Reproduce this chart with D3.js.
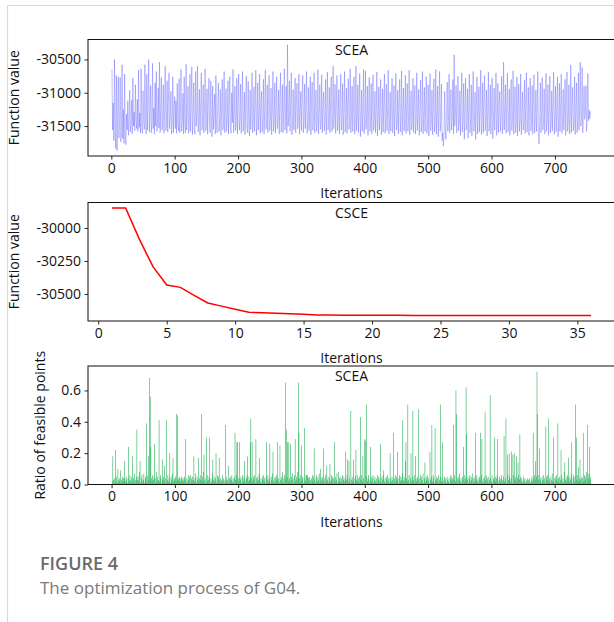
<!DOCTYPE html>
<html><head><meta charset="utf-8">
<script src="https://cdn.jsdelivr.net/npm/d3@7"></script>
<style>
body{margin:0;background:#fff}
svg{display:block}
text{font-family:'Open Sans',sans-serif}
</style>
</head><body>
<svg id="chart" width="614" height="622"></svg>
<script>
// ---------- data ----------
const sceaFunctionValues = [
-30650,-31560,-31150,-31720,-30500,-31620,-31840,-30740,-31870,-31350,-30760,-31680,-31420,-30770,-31740,-31520,-30580,-31690,-31250,-31760,
-30720,-31610,-31780,-31320,-31560,-31120,-31640,-31420,-30960,-31590,-31450,-31110,-31620,-30780,-31500,-31290,-31570,-30880,-31420,-31540,
-31100,-31580,-30660,-31520,-31300,-31600,-30640,-31490,-31610,-30970,-31380,-31550,-30580,-31420,-31620,-30720,-31560,-31180,-30500,-31590,
-31320,-30890,-31600,-31450,-30560,-31540,-31230,-31620,-30850,-31500,-30680,-31580,-31380,-30930,-31530,-30540,-31600,-31250,-30770,-31560,
-31420,-30880,-31610,-31300,-30600,-31570,-31460,-30820,-31590,-31150,-30700,-31540,-31380,-30980,-31620,-31480,-30760,-31600,-31200,-31060,
-31540,-31120,-31610,-30860,-31450,-31570,-30790,-31600,-31320,-30650,-31580,-31430,-31010,-31620,-30760,-31490,-31600,-30570,-31560,-31280,
-30900,-31610,-31460,-30720,-31580,-31200,-30610,-31630,-31400,-30850,-31550,-31620,-30680,-31500,-31350,-30600,-31590,-31450,-30950,-31640,
-31180,-30700,-31560,-31420,-30880,-31600,-31300,-30640,-31570,-31480,-30940,-31620,-31150,-30780,-31510,-31600,-30820,-31440,-31660,-30900,
-31550,-31300,-31020,-31620,-30740,-31480,-31600,-31120,-30850,-31580,-31400,-30950,-31640,-31250,-30800,-31560,-31480,-30680,-31600,-31320,
-30940,-31580,-31430,-30820,-31620,-31200,-30760,-31540,-31610,-31000,-31450,-30650,-31600,-31350,-30900,-31570,-31480,-30780,-31620,-31100,
-30720,-31560,-31400,-30870,-31610,-31280,-30680,-31580,-31450,-30990,-31630,-31150,-30750,-31520,-31600,-30830,-31480,-31650,-30960,-31550,
-31300,-30700,-31600,-31420,-30910,-31580,-31220,-30660,-31640,-31460,-30850,-31560,-31350,-30720,-31610,-31180,-30980,-31590,-31440,-30800,
-31620,-31270,-30660,-31550,-31480,-30880,-31600,-31140,-30740,-31570,-31420,-30930,-31630,-31300,-30680,-31580,-31460,-30850,-31610,-31200,
-30760,-31540,-31400,-30960,-31620,-31130,-30700,-31590,-31450,-30880,-31600,-31260,-30640,-31560,-31420,-30900,-31610,-30280,-31500,-31350,
-30820,-31580,-31200,-30700,-31630,-31450,-30950,-31560,-31300,-30780,-31600,-31150,-30860,-31540,-31460,-30720,-31620,-31280,-30980,-31570,
-31050,-30740,-31600,-31380,-30870,-31540,-31200,-30680,-31610,-31450,-30920,-31570,-31280,-30760,-31630,-31100,-30840,-31560,-31420,-30700,
-31600,-31250,-30960,-31580,-31400,-30650,-31620,-31300,-30880,-31550,-31460,-30730,-31600,-31180,-30990,-31570,-31420,-30800,-31630,-31260,
-30690,-31560,-31410,-30920,-31600,-31140,-30760,-31580,-31470,-30600,-31540,-31320,-30870,-31610,-31230,-30740,-31570,-31440,-30950,-31620,
-31200,-30720,-31560,-31400,-30860,-31630,-31290,-30680,-31590,-31430,-30930,-31610,-31170,-30790,-31550,-31460,-30640,-31600,-31320,-30900,
-31580,-31250,-30760,-31620,-31420,-30600,-31570,-31350,-30880,-31600,-31200,-30710,-31660,-31440,-30960,-31580,-31280,-30650,-31610,-31400,
-30670,-31550,-31330,-30900,-31640,-31210,-30770,-31580,-31450,-30860,-31620,-31180,-30730,-31570,-31420,-30980,-31600,-31300,-30690,-31650,
-31380,-30910,-31560,-31240,-30800,-31630,-31450,-30940,-31590,-31160,-30720,-31610,-31400,-30870,-31570,-31290,-30660,-31620,-31440,-30990,
-31580,-31230,-30780,-31600,-31410,-30890,-31650,-31270,-30710,-31560,-31460,-30960,-31620,-31150,-30800,-31590,-31380,-30670,-31640,-31310,
-30930,-31570,-31440,-30740,-31610,-31200,-30860,-31580,-31420,-30660,-31630,-31290,-30970,-31560,-31450,-30780,-31600,-31170,-30890,-31620,
-31400,-30700,-31570,-31300,-30950,-31640,-31250,-30810,-31590,-31440,-30680,-31620,-31350,-30920,-31580,-31200,-30760,-31610,-31460,-30880,
-31650,-31300,-30710,-31570,-31420,-30960,-31630,-31190,-30790,-31590,-31470,-30650,-31620,-31330,-30900,-31660,-31260,-30680,-31580,-31440,
-30870,-31720,-31600,-31800,-31650,-30980,-31550,-31700,-31300,-30840,-31580,-31420,-30720,-31600,-31210,-30950,-31560,-31380,-30800,-31620,
-30430,-31500,-31330,-30890,-31600,-31250,-30750,-31570,-31450,-30970,-31640,-31160,-30700,-31590,-31420,-30860,-31700,-31300,-30780,-31560,
-31480,-30940,-31680,-31220,-30720,-31600,-31400,-30880,-31650,-31170,-30680,-31580,-31450,-30990,-31700,-31280,-30760,-31620,-31360,-30910,
-31590,-31240,-30660,-31630,-31440,-30850,-31600,-31150,-30740,-31570,-31420,-30960,-31650,-31300,-30690,-31580,-31460,-30880,-31620,-31200,
-30780,-31690,-31400,-30930,-31560,-31260,-30700,-31640,-31430,-30860,-31600,-31180,-30980,-31580,-31370,-30750,-31620,-31450,-30540,-31560,
-31300,-30880,-31610,-31220,-30710,-31590,-31460,-30940,-31640,-31140,-30800,-31570,-31390,-30670,-31620,-31280,-30910,-31600,-31450,-30760,
-31650,-31200,-30870,-31580,-31420,-30720,-31630,-31310,-30990,-31560,-31460,-30810,-31610,-31180,-30700,-31590,-31400,-30920,-31640,-31260,
-30780,-31570,-31450,-30890,-31620,-31160,-30730,-31600,-31380,-30960,-31580,-31250,-30680,-31660,-31770,-31420,-30850,-31600,-31300,-30770,
-31560,-31440,-30940,-31620,-31200,-30710,-31580,-31400,-30880,-31640,-31280,-30750,-31600,-31460,-30970,-31570,-31150,-30690,-31620,-31380,
-30900,-31590,-31250,-30760,-31660,-31430,-30860,-31580,-31180,-30720,-31610,-31460,-30950,-31560,-31300,-30800,-31640,-31220,-30690,-31580,
-31440,-30880,-31620,-31350,-30580,-31600,-31200,-30920,-31570,-31450,-30760,-31630,-31280,-30850,-31600,-31400,-30700,-31560,-31170,-30540,
-31500,-31380,-30620,-31600,-31250,-30900,-31400,-31330,-30890,-31580,-31350,-30710,-31420,-31260,-31390,-31300,-31280
];

const csceFunctionValues = [
-29848,-29848,-30085,-30293,-30432,-30450,-30510,-30568,-30592,-30616,-30638,-30642,-30646,-30650,-30654,-30659,
-30660,-30661,-30661,-30662,-30662,-30662,-30663,-30663,-30663,-30663,-30663,-30664,-30664,-30664,-30664,-30664,
-30664,-30664,-30664,-30664
];

const feasibleRatio = [
.02,.18,.03,.01,.04,.22,.02,.05,.01,.10,.03,.02,.04,.09,.01,.03,.05,.02,.04,.15,
.04,.02,.05,.03,.01,.04,.24,.02,.06,.03,.01,.05,.18,.02,.04,.07,.01,.03,.05,.35,
.03,.05,.02,.08,.15,.01,.04,.06,.02,.03,.07,.01,.04,.05,.39,.02,.06,.18,.03,.68,
.56,.24,.04,.02,.06,.03,.05,.26,.01,.04,.08,.02,.05,.03,.41,.02,.06,.04,.01,.16,
.03,.05,.02,.12,.04,.01,.41,.03,.06,.02,.04,.20,.01,.05,.03,.07,.17,.02,.04,.03,
.05,.02,.45,.44,.04,.03,.05,.04,.02,.04,.05,.03,.04,.02,.05,.03,.29,.01,.04,.02,
.06,.03,.05,.01,.06,.04,.02,.05,.03,.18,.02,.04,.07,.01,.05,.03,.17,.02,.04,.06,
.03,.45,.02,.05,.08,.19,.03,.01,.04,.30,.02,.06,.03,.05,.30,.01,.04,.02,.07,.16,
.03,.05,.02,.04,.20,.01,.06,.03,.05,.17,.02,.04,.01,.03,.06,.02,.04,.01,.03,.38,
.02,.05,.03,.01,.12,.04,.02,.05,.03,.06,.02,.04,.01,.05,.33,.03,.06,.27,.27,.04,
.02,.27,.05,.03,.01,.04,.06,.02,.05,.15,.03,.01,.04,.06,.18,.02,.05,.03,.27,.42,
.04,.27,.02,.05,.03,.06,.01,.29,.04,.02,.05,.03,.07,.17,.02,.04,.01,.05,.03,.06,
.02,.04,.01,.05,.27,.03,.06,.02,.04,.26,.01,.05,.03,.07,.21,.02,.04,.01,.05,.03,
.06,.27,.02,.04,.01,.25,.03,.05,.02,.08,.04,.01,.06,.03,.65,.35,.05,.27,.02,.27,
.04,.02,.26,.05,.03,.07,.01,.04,.06,.29,.02,.05,.03,.08,.65,.33,.04,.02,.06,.25,
.03,.05,.01,.04,.36,.02,.06,.06,.05,.06,.04,.02,.05,.03,.01,.04,.06,.02,.05,.23,
.03,.01,.04,.06,.02,.05,.03,.07,.01,.10,.04,.02,.05,.03,.23,.01,.04,.06,.02,.12,
.03,.05,.01,.04,.13,.02,.06,.03,.05,.01,.04,.27,.02,.05,.03,.07,.01,.08,.02,.04,
.05,.02,.04,.01,.06,.03,.05,.02,.04,.21,.03,.06,.16,.02,.15,.04,.01,.47,.03,.05,
.02,.16,.04,.01,.05,.22,.03,.06,.02,.04,.01,.05,.43,.03,.06,.02,.18,.04,.01,.29,
.28,.05,.51,.02,.04,.06,.01,.03,.24,.05,.02,.04,.06,.01,.03,.05,.02,.04,.01,.06,
.03,.05,.02,.04,.26,.01,.05,.03,.06,.09,.02,.04,.01,.05,.03,.06,.02,.04,.01,.20,
.04,.02,.05,.03,.33,.01,.04,.06,.02,.05,.03,.21,.01,.04,.06,.02,.05,.03,.07,.41,
.02,.05,.03,.15,.27,.04,.02,.51,.03,.06,.01,.04,.20,.02,.05,.47,.03,.06,.01,.18,
.04,.02,.05,.03,.48,.01,.04,.06,.02,.05,.03,.07,.01,.04,.14,.02,.05,.03,.06,.02,
.04,.01,.21,.03,.05,.38,.02,.04,.06,.01,.36,.03,.05,.02,.04,.06,.01,.03,.05,.51,
.02,.04,.27,.01,.03,.05,.02,.04,.01,.05,.03,.02,.04,.01,.06,.03,.05,.02,.04,.38,
.03,.06,.02,.60,.45,.04,.01,.05,.03,.07,.02,.04,.01,.05,.03,.24,.06,.02,.04,.62,
.32,.03,.05,.01,.04,.06,.02,.05,.03,.07,.01,.04,.02,.05,.33,.03,.06,.02,.04,.01,
.05,.03,.33,.06,.29,.02,.04,.01,.05,.46,.03,.06,.02,.04,.01,.05,.03,.57,.04,.02,
.06,.01,.04,.03,.30,.05,.02,.04,.06,.29,.01,.03,.05,.02,.04,.06,.01,.03,.05,.31,
.02,.04,.42,.01,.19,.06,.03,.20,.05,.02,.04,.21,.01,.19,.06,.20,.03,.05,.02,.18,
.04,.14,.06,.03,.32,.05,.02,.04,.01,.03,.05,.02,.04,.01,.03,.02,.04,.01,.03,.04,
.02,.01,.03,.05,.02,.33,.04,.06,.03,.15,.05,.72,.45,.03,.06,.23,.02,.04,.01,.05,
.03,.06,.02,.04,.01,.37,.05,.03,.06,.42,.02,.04,.01,.05,.03,.07,.02,.30,.04,.01,
.05,.03,.06,.02,.39,.04,.01,.05,.03,.22,.06,.02,.04,.01,.08,.14,.03,.05,.02,.06,
.04,.17,.02,.05,.03,.07,.27,.01,.04,.06,.02,.05,.51,.30,.03,.06,.02,.11,.04,.16,
.03,.05,.01,.04,.33,.02,.06,.03,.05,.08,.02,.38,.04,.07,.24,.05,.03
];

const sceaTicks = [0, 100, 200, 300, 400, 500, 600, 700];
const csceTicks = [0, 5, 10, 15, 20, 25, 30, 35];
const topYTicks = [-30500, -31000, -31500];
const midYTicks = [-30000, -30250, -30500];
const botYTicks = [0, 0.2, 0.4, 0.6];
const panelTitles = ["SCEA", "CSCE", "SCEA"];
const xLabel = "Iterations";
const yLabels = ["Function value", "Function value", "Ratio of feasible points"];
const captionTitle = "FIGURE 4";
const captionText = "The optimization process of G04.";

// ---------- layout ----------
const svg = d3.select("#chart");
const W = 614, H = 622;
const left = 88, right = 615;
const panels = [
  {top: 39.5, bottom: 156},
  {top: 202.5, bottom: 321},
  {top: 366, bottom: 484.5}
];
const fontSize = 14;

// figure border
svg.append("line").attr("x1", 7).attr("x2", W).attr("y1", 5.5).attr("y2", 5.5)
  .attr("stroke", "#d9d9d9").attr("stroke-width", 1.2);
svg.append("line").attr("x1", 7.5).attr("x2", 7.5).attr("y1", 5.5).attr("y2", H)
  .attr("stroke", "#d9d9d9").attr("stroke-width", 1.2);

function padDomain(lo, hi) { const m = (hi - lo) * 0.05; return [lo - m, hi + m]; }

function drawFrame(p, x, y, xt, yt, yfmt, title, ylab, ylabX) {
  const g = svg.append("g");
  const xa = g.append("g").attr("transform", `translate(0,${p.bottom})`)
    .call(d3.axisBottom(x).tickValues(xt).tickSize(3.5).tickPadding(3.5).tickSizeOuter(0).tickFormat(d3.format("d")));
  xa.select(".domain").remove();
  const ya = g.append("g").attr("transform", `translate(${left},0)`)
    .call(d3.axisLeft(y).tickValues(yt).tickSize(3.5).tickPadding(3.5).tickSizeOuter(0).tickFormat(yfmt));
  ya.select(".domain").remove();
  g.selectAll(".tick line").attr("stroke", "#111").attr("stroke-width", 0.9);
  g.selectAll(".tick text").attr("font-size", fontSize).attr("fill", "#111")
    .attr("font-family", "'Open Sans',sans-serif");
  g.append("rect").attr("x", left).attr("y", p.top)
    .attr("width", right - left).attr("height", p.bottom - p.top)
    .attr("fill", "none").attr("stroke", "#111").attr("stroke-width", 1);
  g.append("text").attr("x", (left + right) / 2).attr("y", p.top + 15)
    .attr("text-anchor", "middle").attr("font-size", fontSize).attr("fill", "#111").text(title);
  g.append("text").attr("x", (left + right) / 2).attr("y", p.bottom + 42)
    .attr("text-anchor", "middle").attr("font-size", fontSize).attr("fill", "#111").text(xLabel);
  const cy = (p.top + p.bottom) / 2;
  g.append("text").attr("transform", `translate(${ylabX},${cy}) rotate(-90)`)
    .attr("text-anchor", "middle").attr("font-size", fontSize).attr("fill", "#111").text(ylab);
  return g;
}

const intFmt = d => d3.format("d")(d).replace("\u2212", "-");

// ---------- panel 1: SCEA function value ----------
{
  const p = panels[0];
  const n = sceaFunctionValues.length;
  const x = d3.scaleLinear().domain(padDomain(1, n)).range([left, right]);
  const ext = d3.extent(sceaFunctionValues);
  const y = d3.scaleLinear().domain(padDomain(ext[0], ext[1])).range([p.bottom, p.top]);
  svg.append("defs").append("clipPath").attr("id", "clip1").append("rect")
    .attr("x", left).attr("y", p.top).attr("width", right - left).attr("height", p.bottom - p.top);
  svg.append("path").datum(sceaFunctionValues)
    .attr("clip-path", "url(#clip1)")
    .attr("fill", "none").attr("stroke", "#3d3dff").attr("stroke-width", 0.45).attr("stroke-opacity", 0.7)
    .attr("d", d3.line().x((d, i) => x(i + 1)).y(d => y(d)));
  drawFrame(p, x, y, sceaTicks, topYTicks, intFmt, panelTitles[0], yLabels[0], 19);
}

// ---------- panel 2: CSCE function value ----------
{
  const p = panels[1];
  const n = csceFunctionValues.length;
  const x = d3.scaleLinear().domain(padDomain(1, n)).range([left, right]);
  const ext = d3.extent(csceFunctionValues);
  const y = d3.scaleLinear().domain(padDomain(ext[0], ext[1])).range([p.bottom, p.top]);
  svg.append("path").datum(csceFunctionValues)
    .attr("fill", "none").attr("stroke", "#ff0000").attr("stroke-width", 1.5)
    .attr("d", d3.line().x((d, i) => x(i + 1)).y(d => y(d)));
  drawFrame(p, x, y, csceTicks, midYTicks, intFmt, panelTitles[1], yLabels[1], 19);
}

// ---------- panel 3: ratio of feasible points ----------
{
  const p = panels[2];
  const n = feasibleRatio.length;
  const x = d3.scaleLinear().domain(padDomain(0.6, n + 0.4)).range([left, right]);
  const y = d3.scaleLinear().domain([0, d3.max(feasibleRatio) * 1.05]).range([p.bottom, p.top]);
  svg.append("g").selectAll("rect").data(feasibleRatio).join("rect")
    .attr("x", (d, i) => x(i + 1 - 0.4))
    .attr("width", (d, i) => x(i + 1 + 0.4) - x(i + 1 - 0.4))
    .attr("y", d => y(d))
    .attr("height", d => y(0) - y(d))
    .attr("fill", "#00a43c");
  drawFrame(p, x, y, sceaTicks, botYTicks, d3.format(".1f"), panelTitles[2], yLabels[2], 45);
}

// ---------- caption ----------
svg.append("text").attr("x", 40).attr("y", 570).attr("font-size", 18).attr("font-weight", 600)
  .attr("fill", "#6a6a6a").text(captionTitle);
svg.append("text").attr("x", 40).attr("y", 594).attr("font-size", 17).attr("font-weight", 400)
  .attr("fill", "#7a7a7a").text(captionText);
</script>
</body></html>
